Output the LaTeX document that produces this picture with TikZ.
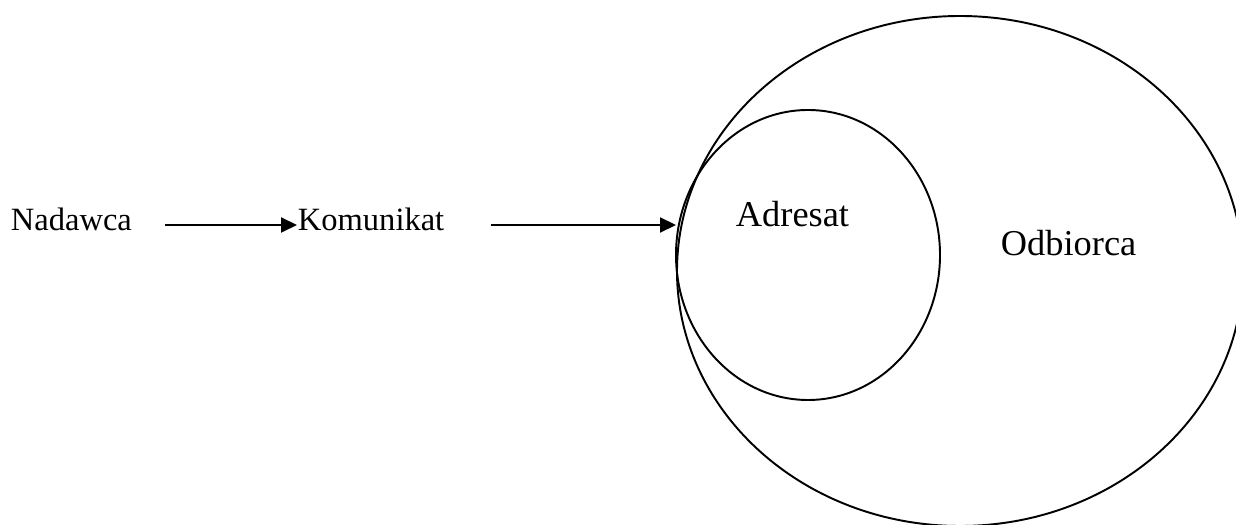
\documentclass[tikz,border=0pt]{standalone}
\usepackage{fontspec}
\setmainfont{Liberation Serif}
\usetikzlibrary{positioning,shapes.geometric,arrows.meta}

\begin{document}
\begin{tikzpicture}[
    >={Triangle[length=0.32cm,width=0.3cm]},
    line width=1.1pt,
    txt/.style={inner sep=0pt,text height=0.5cm,text depth=0.26cm,font=\fontsize{18.5}{22}\selectfont},
    bigtxt/.style={inner sep=0pt,font=\fontsize{20.7}{24}\selectfont},
    zbior/.style={draw,ellipse,inner sep=0pt}
]
    \useasboundingbox (0,0) rectangle (24.72,10.48);
    \clip (0,0) rectangle (24.72,10.48);

    \node[zbior,minimum width=11.32cm,minimum height=10.2cm] (odb) at (19.2,5.06) {};
    \node[zbior,minimum width=5.28cm,minimum height=5.8cm] (adr) at (16.16,5.38) {};

    \node[txt,anchor=base west] (nadawca) at (0.2,5.86) {Nadawca};
    \node[txt,anchor=base west] (komunikat) at (5.94,5.86) {Komunikat};
    \node[bigtxt,anchor=base west] (adresat) at (14.7,5.94) {Adresat};
    \node[bigtxt,anchor=base west] (odbiorca) at (20.0,5.36) {Odbiorca};

    \draw[->,shorten <=0.64cm] (nadawca.east) -- (komunikat.west);
    \draw[->,shorten <=0.92cm] (komunikat.east) -- (komunikat.east -| odb.west);
\end{tikzpicture}
\end{document}
